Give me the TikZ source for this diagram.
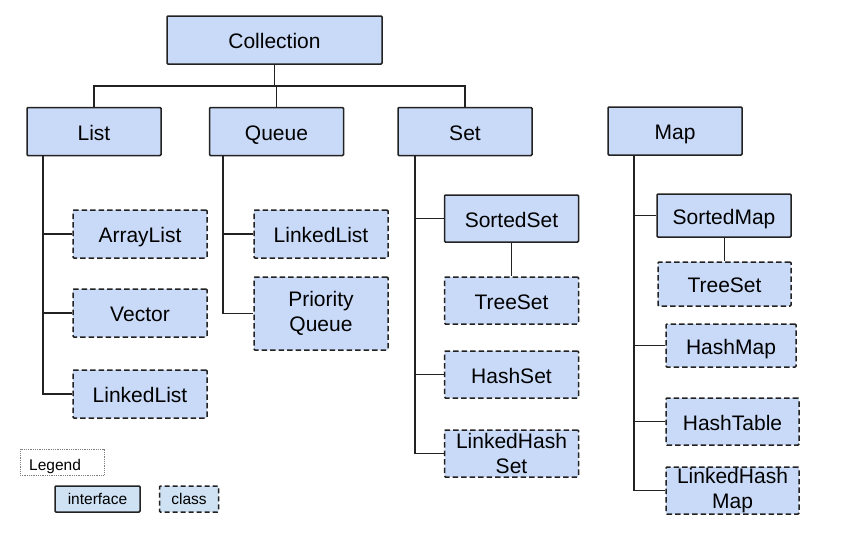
\documentclass[tikz,border=0pt]{standalone}
\usepackage{fontspec}
\setmainfont{Liberation Sans}
\definecolor{boxfill}{HTML}{C9DAF8}
\definecolor{legfill}{HTML}{CFE2F3}
\definecolor{edge}{HTML}{222222}
\begin{document}
\begin{tikzpicture}[x=1pt,y=-1pt,
  base/.style={draw=edge,line width=1.5pt,fill=boxfill,rounded corners=1pt,inner sep=0pt,
    font=\fontsize{21}{24.5}\selectfont,align=center},
  one/.style={text height=18pt,text depth=1pt},
  iface/.style={base},
  cls/.style={base,dash pattern=on 5.5pt off 3pt},
  wire/.style={draw=edge,line width=1.5pt},
  sz/.style 2 args={minimum width=#1pt,minimum height=#2pt}]
\useasboundingbox (0,0) rectangle (843,539);
% interfaces
\node[iface,one,sz={215}{48}] (coll) at (274.5,40) {Collection};
\node[iface,one,sz={134}{48}] (list) at (94,131.5) {List};
\node[iface,one,sz={134}{48}] (queue) at (276.5,131.5) {Queue};
\node[iface,one,sz={134}{48}] (set) at (465,131.5) {Set};
\node[iface,one,sz={134}{48}] (map) at (675,131) {Map};
\node[iface,one,sz={134}{47}] (sset) at (511.5,218.5) {SortedSet};
\node[iface,one,sz={134}{43}] (smap) at (724,215.5) {SortedMap};
% classes
\node[cls,one,sz={134}{48}] (alist) at (140,234) {ArrayList};
\node[cls,one,sz={134}{48}] (vector) at (140,313) {Vector};
\node[cls,one,sz={134}{48}] (llist) at (140,394) {LinkedList};
\node[cls,one,sz={134}{48}] (qllist) at (321,234) {LinkedList};
\node[cls,sz={134}{73}] (pq) at (321,313.5) {Priority\\Queue};
\node[cls,one,sz={134}{47}] (tset) at (511.5,300.5) {TreeSet};
\node[cls,one,sz={134}{47}] (hset) at (511.5,374.5) {HashSet};
\node[cls,sz={134}{47}] (lhset) at (511.5,453.5) {LinkedHash\\Set};
\node[cls,one,sz={133}{44}] (mtset) at (724.5,284) {TreeSet};
\node[cls,one,sz={130}{43}] (hmap) at (731,345.5) {HashMap};
\node[cls,one,sz={133}{47}] (htab) at (732.5,421.5) {HashTable};
\node[cls,sz={133}{47}] (lhmap) at (732.5,490.5) {LinkedHash\\Map};
% bus coordinates
\coordinate (cbus) at (0,86);
\coordinate (lx) at (43,0);
\coordinate (qx) at (223,0);
\coordinate (sx) at (415,0);
\coordinate (mx) at (634,0);
% top tree
\draw[wire] (coll.south) -- (coll.south |- cbus);
\draw[wire] (list.north) -- (list.north |- cbus) -- (set.north |- cbus) -- (set.north);
\draw[wire] (queue.north) -- (queue.north |- cbus);
% List
\draw[wire] (list.south -| lx) -- (lx |- llist.west) -- (llist.west);
\draw[wire] (lx |- alist.west) -- (alist.west);
\draw[wire] (lx |- vector.west) -- (vector.west);
% Queue
\draw[wire] (queue.south -| qx) -- (qx |- pq.west) -- (pq.west);
\draw[wire] (qx |- qllist.west) -- (qllist.west);
% Set
\draw[wire] (set.south -| sx) -- (sx |- lhset.west) -- (lhset.west);
\draw[wire] (sx |- sset.west) -- (sset.west);
\draw[wire] (sx |- hset.west) -- (hset.west);
\draw[wire] (sset.south) -- (tset.north);
% Map
\draw[wire] (map.south -| mx) -- (mx |- lhmap.west) -- (lhmap.west);
\draw[wire] (mx |- smap.west) -- (smap.west);
\draw[wire] (mx |- hmap.west) -- (hmap.west);
\draw[wire] (mx |- htab.west) -- (htab.west);
\draw[wire] (smap.south -| mtset.north) -- (mtset.north);
% legend
\node[draw=gray,densely dotted,line width=0.8pt,minimum width=84pt,minimum height=26pt,
  inner sep=0pt] (leg) at (62,462) {};
\node[anchor=west,inner sep=0pt,font=\fontsize{15.5}{18}\selectfont] (legt) at (29,466) {Legend};
\node[base,fill=legfill,sz={85}{26},font=\fontsize{15.5}{18}\selectfont,text height=12pt,text depth=2pt] (lint) at (97.5,499) {interface};
\node[base,fill=legfill,dash pattern=on 5pt off 3pt,sz={59}{26},font=\fontsize{15.5}{18}\selectfont,text height=12pt,text depth=2pt] (lcls) at (189,499) {class};
\end{tikzpicture}
\end{document}
